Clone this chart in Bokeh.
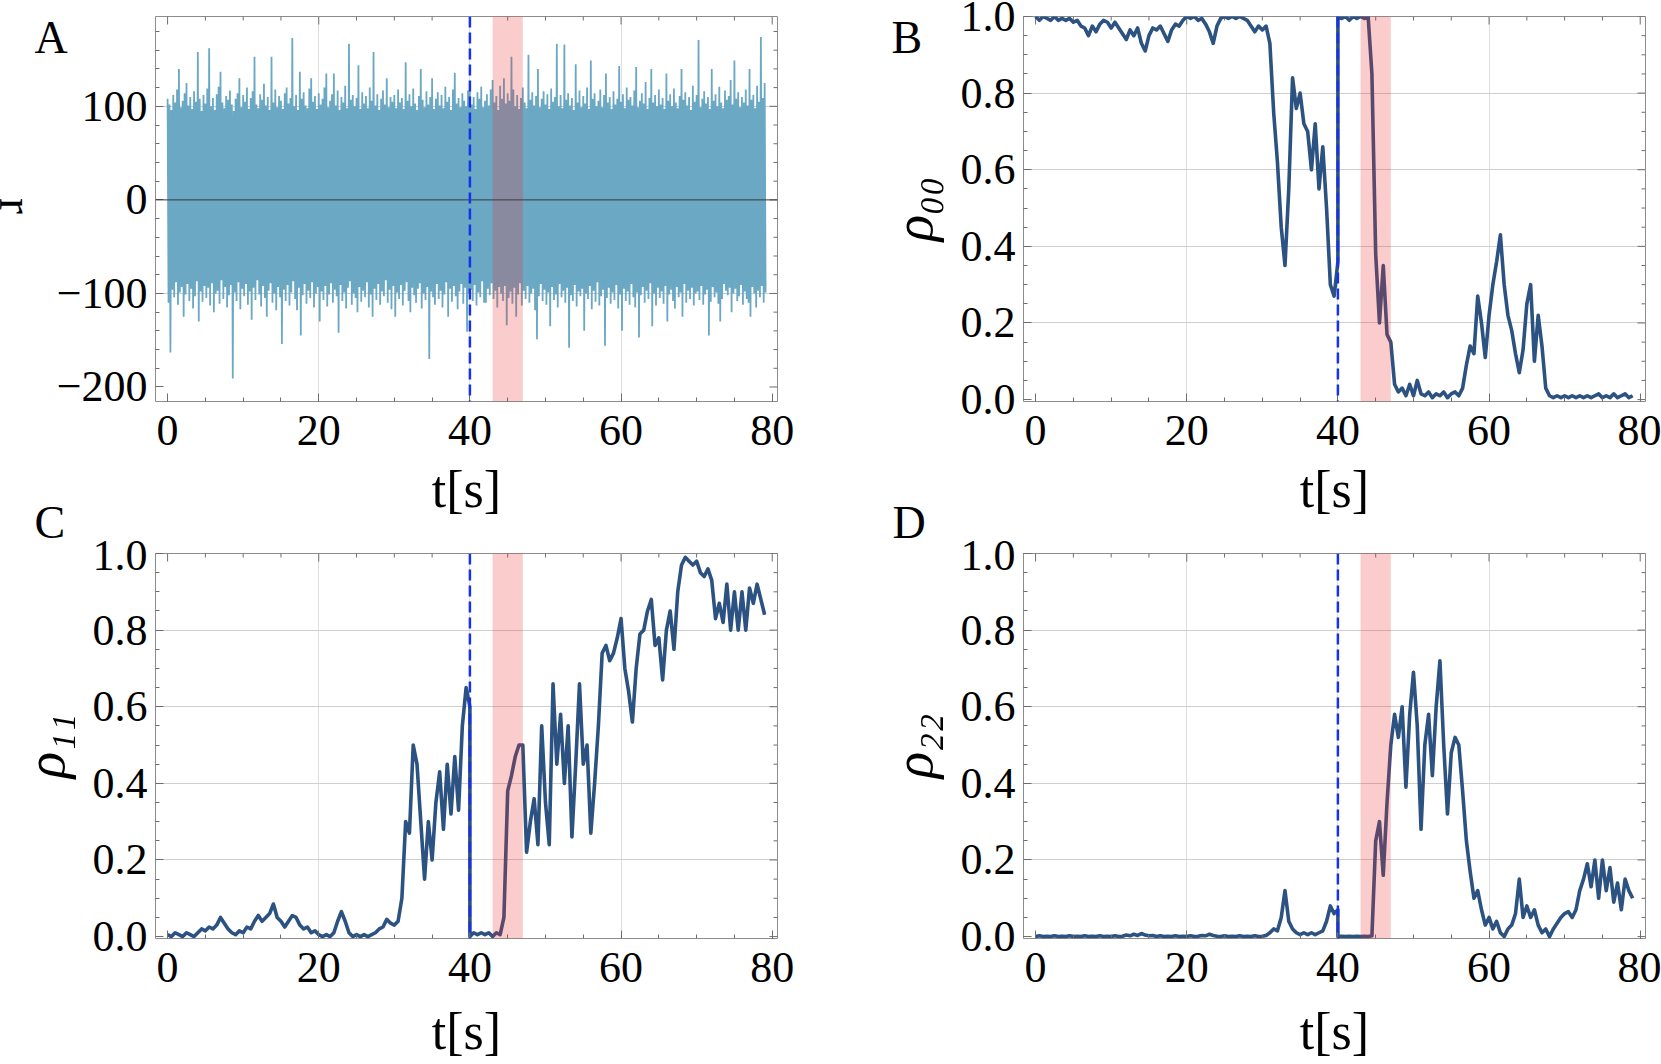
import numpy as np
from bokeh.plotting import figure
from bokeh.models import (Range1d, SingleIntervalTicker, Span, BoxAnnotation, Label, Title,
                          NumeralTickFormatter, FixedTicker, CustomJSTickFormatter)
from bokeh.layouts import column, row
from bokeh.embed import file_html
from bokeh.resources import INLINE
try:
    from bokeh.core.enums import CoordinateUnits
    CANVAS = "canvas" if "canvas" in CoordinateUnits else "screen"
except Exception:
    CANVAS = "screen"

# ---------------- data ----------------
# Panel A: signal r -- local maxima (t = 0, 0.25, ... 79) and local minima (t + 0.125)
r_peaks = [
    108, 102, 96, 112, 104, 118, 140, 99, 106, 114, 125, 101, 110, 97, 116, 105, 158, 108, 95, 112,
    103, 119, 162, 100, 109, 96, 113, 121, 137, 104, 98, 111, 107, 117, 102, 95, 108, 114, 130, 99,
    112, 105, 120, 97, 109, 116, 153, 102, 98, 113, 107, 124, 101, 110, 96, 153, 104, 118, 99, 111,
    106, 97, 114, 120, 103, 109, 173, 100, 112, 96, 137, 108, 115, 101, 98, 119, 130, 105, 111, 97,
    114, 102, 108, 120, 135, 99, 106, 113, 135, 101, 117, 96, 110, 104, 122, 98, 167, 107, 112, 100,
    109, 144, 97, 115, 103, 111, 98, 120, 106, 158, 101, 113, 96, 108, 117, 102, 130, 99, 110, 105,
    112, 98, 118, 104, 109, 97, 147, 106, 113, 100, 119, 103, 96, 111, 140, 107, 99, 116, 102, 110,
    130, 97, 108, 115, 101, 112, 98, 121, 105, 110, 96, 118, 136, 103, 109, 99, 114, 106, 100, 117,
    124, 102, 110, 97, 115, 108, 121, 99, 106, 113, 101, 118, 128, 104, 111, 96, 122, 108, 130, 103,
    114, 106, 153, 118, 100, 112, 97, 109, 120, 104, 98, 155, 107, 115, 101, 111, 140, 99, 108, 116,
    102, 113, 97, 119, 105, 110, 167, 100, 112, 98, 166, 107, 114, 101, 109, 96, 145, 104, 117, 99,
    111, 103, 120, 97, 149, 108, 114, 100, 106, 118, 99, 112, 135, 104, 110, 97, 116, 102, 108, 143,
    105, 113, 98, 120, 107, 110, 101, 117, 142, 99, 106, 114, 103, 126, 97, 109, 140, 104, 112, 100,
    118, 102, 109, 97, 135, 106, 113, 100, 119, 104, 98, 111, 140, 107, 115, 101, 110, 96, 122, 105,
    112, 171, 99, 108, 116, 103, 110, 97, 140, 106, 113, 100, 121, 104, 98, 117, 107, 111, 128, 102,
    149, 108, 115, 99, 110, 104, 118, 101, 140, 107, 112, 98, 122, 105, 174, 109, 125]
r_troughs = [
    -110, -163, -96, -104, -88, -112, -99, -93, -125, -101, -90, -108, -95, -116, -103, -87, -130, -98, -109, -92,
    -105, -94, -113, -89, -120, -100, -97, -111, -86, -106, -93, -115, -102, -91, -191, -99, -108, -88, -117, -95,
    -103, -90, -112, -98, -128, -94, -107, -86, -101, -114, -92, -105, -125, -97, -89, -110, -100, -118, -93, -104,
    -154, -96, -108, -91, -113, -99, -87, -106, -118, -94, -145, -102, -90, -111, -97, -105, -88, -115, -100, -93,
    -130, -98, -107, -92, -114, -101, -89, -110, -96, -103, -142, -91, -108, -99, -116, -94, -87, -112, -100, -105,
    -120, -93, -109, -97, -104, -88, -115, -101, -125, -95, -107, -90, -112, -98, -103, -86, -110, -96, -117, -92,
    -125, -99, -106, -91, -113, -97, -88, -108, -120, -94, -102, -110, -95, -89, -116, -100, -107, -93, -170, -98,
    -104, -112, -90, -106, -97, -115, -101, -88, -125, -95, -109, -92, -103, -117, -98, -90, -111, -94, -141, -100,
    -96, -108, -91, -113, -99, -104, -87, -110, -110, -95, -102, -89, -106, -97, -115, -93, -100, -108, -92, -134,
    -105, -98, -111, -94, -125, -101, -89, -113, -97, -106, -92, -110, -100, -95, -118, -149, -103, -90, -108, -96,
    -112, -99, -135, -93, -107, -101, -115, -90, -104, -97, -110, -94, -158, -102, -108, -91, -114, -98, -103, -95,
    -140, -100, -106, -92, -117, -97, -109, -88, -113, -103, -96, -156, -105, -94, -111, -99, -107, -91, -116, -101,
    -140, -95, -108, -98, -112, -90, -104, -115, -99, -147, -102, -93, -110, -97, -106, -89, -135, -100, -113, -94,
    -105, -98, -111, -92, -130, -101, -96, -108, -116, -93, -104, -99, -125, -90, -110, -97, -106, -94, -113, -100,
    -98, -107, -92, -112, -101, -96, -145, -109, -93, -104, -99, -111, -130, -106, -90, -97, -102, -94, -120, -100,
    -95, -108, -103, -91, -112, -98, -106, -110, -125, -93, -100, -115, -97, -104, -92, -110, -99]

# Panels B-D: populations before the event (t = 0 .. 40, step 0.5) and after it (t = 40 .. 79)
rho00_pre = [
    1.0, 0.99, 1.0, 0.995, 0.99, 1.0, 0.99, 0.995, 0.99, 0.995,
    0.985, 0.99, 0.975, 0.97, 0.95, 0.975, 0.96, 0.98, 0.99, 0.985,
    0.97, 0.985, 0.97, 0.955, 0.94, 0.965, 0.95, 0.97, 0.93, 0.91,
    0.95, 0.97, 0.965, 0.975, 0.955, 0.935, 0.965, 0.98, 0.975, 0.99,
    1.0, 0.995, 1.0, 0.99, 0.995, 0.98, 0.96, 0.93, 0.975, 0.995,
    1.0, 0.995, 1.0, 0.995, 1.0, 0.995, 0.99, 0.975, 0.96, 0.975,
    0.965, 0.975, 0.93, 0.75, 0.62, 0.45, 0.35, 0.55, 0.84, 0.76,
    0.8, 0.72, 0.7, 0.6, 0.72, 0.55, 0.66, 0.5, 0.3, 0.27,
    0.36]
rho00_post = [
    1.0, 0.995, 1.0, 0.99, 1.0, 0.995, 1.0, 0.995, 1.0, 0.85,
    0.38, 0.2, 0.35, 0.17, 0.15, 0.04, 0.02, 0.03, 0.01, 0.04,
    0.01, 0.05, 0.015, 0.01, 0.02, 0.005, 0.015, 0.01, 0.02, 0.005,
    0.015, 0.02, 0.01, 0.03, 0.09, 0.14, 0.12, 0.27, 0.2, 0.11,
    0.22, 0.3, 0.36, 0.43, 0.3, 0.22, 0.18, 0.12, 0.07, 0.13,
    0.25, 0.3, 0.1, 0.22, 0.14, 0.03, 0.01, 0.005, 0.01, 0.005,
    0.01, 0.005, 0.01, 0.005, 0.01, 0.005, 0.01, 0.005, 0.01, 0.015,
    0.005, 0.01, 0.005, 0.015, 0.005, 0.01, 0.015, 0.005, 0.01]
rho11_pre = [
    0.005, 0.0, 0.01, 0.005, 0.0, 0.01, 0.005, 0.0, 0.01, 0.02,
    0.015, 0.025, 0.02, 0.03, 0.05, 0.035, 0.02, 0.01, 0.005, 0.015,
    0.01, 0.025, 0.02, 0.04, 0.055, 0.04, 0.05, 0.06, 0.085, 0.05,
    0.04, 0.025, 0.04, 0.055, 0.05, 0.03, 0.02, 0.025, 0.01, 0.015,
    0.005, 0.0, 0.005, 0.0, 0.01, 0.04, 0.065, 0.04, 0.01, 0.0,
    0.005, 0.0, 0.005, 0.0, 0.005, 0.01, 0.02, 0.025, 0.045, 0.035,
    0.03, 0.04, 0.1, 0.3, 0.27, 0.5, 0.45, 0.3, 0.15, 0.3,
    0.2, 0.35, 0.43, 0.28, 0.45, 0.32, 0.47, 0.33, 0.55, 0.65,
    0.6]
rho11_post = [
    0.0, 0.01, 0.005, 0.01, 0.005, 0.01, 0.0, 0.01, 0.005, 0.05,
    0.38, 0.42, 0.47, 0.5, 0.5, 0.22, 0.3, 0.36, 0.24, 0.55,
    0.35, 0.24, 0.66, 0.45, 0.58, 0.4, 0.55, 0.26, 0.45, 0.66,
    0.45, 0.5, 0.27, 0.4, 0.55, 0.74, 0.76, 0.72, 0.74, 0.78,
    0.83, 0.7, 0.64, 0.56, 0.7, 0.79, 0.8, 0.85, 0.88, 0.76,
    0.78, 0.67, 0.8, 0.85, 0.75, 0.9, 0.97, 0.99, 0.98, 0.97,
    0.98, 0.95, 0.94, 0.96, 0.93, 0.83, 0.87, 0.82, 0.92, 0.8,
    0.9, 0.8, 0.9, 0.8, 0.91, 0.87, 0.92, 0.88, 0.84]
rho22_pre = [
    0.0, 0.002, 0.0, 0.001, 0.0, 0.002, 0.0, 0.001, 0.0, 0.002,
    0.0, 0.001, 0.0, 0.002, 0.0, 0.001, 0.0, 0.002, 0.0, 0.001,
    0.0, 0.002, 0.0, 0.001, 0.004, 0.002, 0.006, 0.003, 0.008, 0.004,
    0.002, 0.003, 0.0, 0.002, 0.0, 0.001, 0.0, 0.002, 0.0, 0.001,
    0.0, 0.002, 0.0, 0.001, 0.003, 0.002, 0.006, 0.003, 0.001, 0.0,
    0.002, 0.0, 0.001, 0.0, 0.002, 0.0, 0.001, 0.0, 0.002, 0.0,
    0.001, 0.003, 0.01, 0.02, 0.015, 0.05, 0.12, 0.04, 0.02, 0.01,
    0.005, 0.01, 0.005, 0.01, 0.005, 0.01, 0.015, 0.04, 0.08, 0.06,
    0.07]
rho22_post = [
    0.0, 0.001, 0.0, 0.001, 0.0, 0.001, 0.0, 0.001, 0.0, 0.002,
    0.25, 0.3, 0.16, 0.35, 0.5, 0.58, 0.52, 0.6, 0.39, 0.58,
    0.69, 0.55, 0.28, 0.5, 0.58, 0.42, 0.6, 0.72, 0.5, 0.32,
    0.48, 0.52, 0.5, 0.38, 0.25, 0.17, 0.1, 0.12, 0.07, 0.03,
    0.05, 0.02, 0.04, 0.01, 0.0, 0.02, 0.03, 0.06, 0.15, 0.05,
    0.08, 0.05, 0.07, 0.03, 0.01, 0.02, 0.0, 0.02, 0.035, 0.05,
    0.06, 0.065, 0.05, 0.07, 0.12, 0.15, 0.19, 0.13, 0.2, 0.1,
    0.2, 0.12, 0.18, 0.09, 0.14, 0.07, 0.15, 0.12, 0.1]

event_t = 40.0          # blue dashed line
band_t = (43.0, 47.0)   # shaded interval

x_ticks = [0, 20, 40, 60, 80]
rho_ticks = [0.0, 0.2, 0.4, 0.6, 0.8, 1.0]
r_ticks = [-200, -100, 0, 100]

# ---------------- styling ----------------
FONT = "Liberation Serif"
R_COLOR = "#6aa8c4"
RHO_COLOR = "#2c5282"
BAND_COLOR = "#eb2f2f"
DASH_COLOR = "#1533ee"
TICK_COLOR = "#6e6e6e"
X_RANGE = (-1.6, 80.7)
TICK_FS = "44px"
XLAB_FS = "52px"
LETTER_FS = "46px"

# sampling grid
t_r = np.arange(len(r_peaks)) * 0.25
t_pre = np.arange(len(rho00_pre)) * 0.5
t_post = event_t + np.arange(len(rho00_post)) * 0.5
t_rho = np.concatenate([t_pre, t_post])

r_x = np.empty(2 * len(t_r)); r_y = np.empty(2 * len(t_r))
r_x[0::2] = t_r; r_x[1::2] = t_r + 0.125
r_y[0::2] = r_peaks; r_y[1::2] = r_troughs

x_minor = [a + k * 5 for a in x_ticks[:-1] for k in (1, 2, 3)]
rho_minor = [round(a + k * 0.05, 3) for a in rho_ticks[:-1] for k in (1, 2, 3)]
r_minor = [a + k * 20 for a in r_ticks for k in (1, 2, 3, 4) if a + k * 20 < 196]


def style_axis(ax):
    ax.axis_line_color = None
    ax.major_tick_in = 8
    ax.major_tick_out = 0
    ax.minor_tick_in = 4
    ax.minor_tick_out = 0
    ax.major_tick_line_color = TICK_COLOR
    ax.minor_tick_line_color = TICK_COLOR
    ax.major_label_text_font = FONT
    ax.major_label_text_font_size = TICK_FS
    ax.major_label_text_color = "black"


def make_panel(width, height, bl, br, bt, bb, y_range, y_ticks, y_minor, y_interval, n_minor,
               y_fmt, grid_y, ylabel, xlabel_standoff):
    p = figure(width=width, height=height, x_range=Range1d(*X_RANGE), y_range=Range1d(*y_range),
               output_backend="svg", toolbar_location=None,
               min_border_left=bl, min_border_right=br, min_border_top=bt, min_border_bottom=bb)
    p.background_fill_color = "white"
    p.border_fill_color = "white"
    p.outline_line_color = "#8c8c8c"
    p.outline_line_width = 1
    xa = p.xaxis[0]
    ya = p.yaxis[0]
    xa.ticker = SingleIntervalTicker(interval=20, num_minor_ticks=4)
    ya.ticker = SingleIntervalTicker(interval=y_interval, num_minor_ticks=n_minor)
    ya.formatter = y_fmt
    style_axis(xa)
    style_axis(ya)
    xa.major_label_standoff = 14
    ya.major_label_standoff = 8
    xa.axis_label = "t[s]"
    xa.axis_label_text_font = FONT
    xa.axis_label_text_font_size = XLAB_FS
    xa.axis_label_text_font_style = "normal"
    xa.axis_label_text_color = "black"
    xa.axis_label_standoff = xlabel_standoff
    if ylabel:
        ya.axis_label = ylabel
        ya.axis_label_text_font = FONT
        ya.axis_label_text_font_size = "55px"
        ya.axis_label_text_font_style = "italic"
        ya.axis_label_text_color = "black"
        ya.axis_label_standoff = 14
    p.xgrid.ticker = FixedTicker(ticks=[20, 40, 60])
    p.xgrid.grid_line_color = "#dedede"
    p.ygrid.ticker = FixedTicker(ticks=grid_y)
    p.ygrid.grid_line_color = "#cfcfcf"
    # inward ticks on the top and right edges of the frame
    y_top, x_right = y_range[1], X_RANGE[1]
    p.ray(x=x_ticks, y=[y_top] * len(x_ticks), length=8, length_units="screen",
          angle=-np.pi / 2, line_color=TICK_COLOR, line_width=1)
    p.ray(x=x_minor, y=[y_top] * len(x_minor), length=4, length_units="screen",
          angle=-np.pi / 2, line_color=TICK_COLOR, line_width=1)
    p.ray(x=[x_right] * len(y_ticks), y=y_ticks, length=8, length_units="screen",
          angle=np.pi, line_color=TICK_COLOR, line_width=1)
    p.ray(x=[x_right] * len(y_minor), y=y_minor, length=4, length_units="screen",
          angle=np.pi, line_color=TICK_COLOR, line_width=1)
    return p


def canvas_text(p, place, x, y, text, size, angle=0.0, align="left", baseline="alphabetic"):
    """Text placed at canvas pixel coordinates, kept in a side panel so it is not clipped."""
    p.add_layout(Label(x=x, y=y, x_units=CANVAS, y_units=CANVAS, text=text, angle=angle,
                       text_font=FONT, text_font_size=size, text_color="black",
                       text_align=align, text_baseline=baseline), place)


def bottom_letter(p, text, offset):
    """Letter of the panel below, as a left-aligned title taking almost no room."""
    p.add_layout(Title(text=text, align="left", vertical_align="top", offset=offset,
                       standoff=-47, text_font=FONT, text_font_size=LETTER_FS,
                       text_font_style="normal", text_color="black"), "below")


def add_markers(p):
    p.add_layout(BoxAnnotation(left=band_t[0], right=band_t[1], fill_color=BAND_COLOR,
                               fill_alpha=0.245, line_color=None))
    p.add_layout(Span(location=event_t, dimension="height", line_color=DASH_COLOR,
                      line_width=2.5, line_dash="11 5"))


minus_fmt = CustomJSTickFormatter(code="return tick < 0 ? '\\u2212' + Math.abs(tick) : String(tick);")
rho_fmt = NumeralTickFormatter(format="0.0")
RHO_RANGE = (-0.005, 1.0)
RHO_GRID = [0.2, 0.4, 0.6, 0.8]

ROW1_H, ROW2_H = 540, 524
WA, WB = 822, 839

# Panel A
pA = make_panel(WA, ROW1_H, 155, 45, 16, 139, (-215.5, 196), r_ticks, r_minor, 100, 5, minus_fmt,
                [-100, 100], None, 13)
pA.line(r_x, r_y, line_color=R_COLOR, line_width=1.8)
pA.add_layout(BoxAnnotation(left=band_t[0], right=band_t[1], fill_color=BAND_COLOR,
                            fill_alpha=0.245, line_color=None))
pA.add_layout(Span(location=0, dimension="width", line_color="#3a3a3a", line_width=1))
pA.add_layout(Span(location=event_t, dimension="height", line_color=DASH_COLOR,
                   line_width=2.5, line_dash="11 5"))
canvas_text(pA, "left", 16, 205.5, "r", "48px", angle=-np.pi / 2, align="center")
canvas_text(pA, "right", 34, 37, "A", LETTER_FS)
bottom_letter(pA, "C", -121)

# Panel B
pB = make_panel(WB, ROW1_H, 201, 16, 16, 139, RHO_RANGE, rho_ticks, rho_minor, 0.2, 4, rho_fmt,
                RHO_GRID, "ρ₀₀", 13)
pB.line(t_rho, rho00_pre + rho00_post, line_color=RHO_COLOR, line_width=3.6, line_join="round")
add_markers(pB)
canvas_text(pB, "left", 891 - WA, 37, "B", LETTER_FS)
bottom_letter(pB, "D", -131)

# Panel C
pC = make_panel(WA, ROW2_H, 155, 45, 13, 126, RHO_RANGE, rho_ticks, rho_minor, 0.2, 4, rho_fmt,
                RHO_GRID, "ρ₁₁", 18)
pC.line(t_rho, rho11_pre + rho11_post, line_color=RHO_COLOR, line_width=3.6, line_join="round")
add_markers(pC)

# Panel D
pD = make_panel(WB, ROW2_H, 201, 16, 13, 126, RHO_RANGE, rho_ticks, rho_minor, 0.2, 4, rho_fmt,
                RHO_GRID, "ρ₂₂", 18)
pD.line(t_rho, rho22_pre + rho22_post, line_color=RHO_COLOR, line_width=3.6, line_join="round")
add_markers(pD)

layout = column(row(pA, pB), row(pC, pD))
open("out.html", "w").write(file_html(layout, INLINE))
